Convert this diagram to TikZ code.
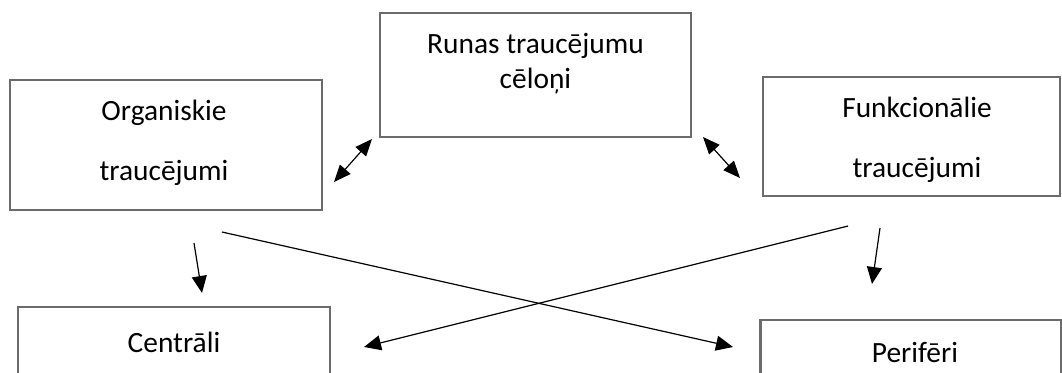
\documentclass[tikz,border=0pt]{standalone}
\usepackage{fontspec}
\setmainfont{Carlito}
\usetikzlibrary{arrows.meta}

\begin{document}
\begin{tikzpicture}[x=0.5pt,y=-0.5pt,
	box/.style={draw=black!58,line width=1.2pt,rectangle,inner sep=0pt},
	txt/.style={align=center,font=\fontsize{14.7}{17.5}\selectfont},
	widetxt/.style={align=center,font=\fontsize{14.7}{30}\selectfont},
	conn/.style={line width=0.6pt,-{Triangle[length=8.5pt,width=7.5pt]}},
	twoway/.style={line width=0.6pt,{Triangle[length=8.5pt,width=7pt]}-{Triangle[length=8.5pt,width=7pt]}}]
	\useasboundingbox (0,0) rectangle (1062,372);
	
	% boxes
	\node[box,minimum width=156pt,minimum height=65pt] (org) at (166,145) {};
	\node[box,minimum width=155.5pt,minimum height=62pt] (cause) at (535.5,75) {};
	\node[box,minimum width=148.5pt,minimum height=59.5pt] (func) at (911.5,136.5) {};
	\node[box,minimum width=156pt,minimum height=36pt] (cent) at (174,343) {};
	\node[box,minimum width=150.5pt,minimum height=40pt] (peri) at (911,360) {};
	
	% texts
	\node[widetxt] (orgtxt) at (164,143) {Organiskie\\traucējumi};
	\node[txt] (causetxt) at (535.5,64) {Runas traucējumu\\cēloņi};
	\node[widetxt] (functxt) at (917,140) {Funkcionālie\\traucējumi};
	\node[txt] (centtxt) at (174,342) {Centrāli};
	\node[txt] (peritxt) at (915,352) {Perifēri};
	
	% arrow ends
	\coordinate (ol1) at (372,139);
	\coordinate (ol2) at (334,182);
	\coordinate (fl1) at (703,137);
	\coordinate (fl2) at (740,178);
	\coordinate (od1) at (194,243);
	\coordinate (od2) at (202,293);
	\coordinate (fd1) at (880,228);
	\coordinate (fd2) at (872,284);
	\coordinate (x1) at (222,232);
	\coordinate (x2) at (733,347);
	\coordinate (y1) at (848,226);
	\coordinate (y2) at (364,347);
	
	\draw[twoway] (ol1) -- (ol2);
	\draw[twoway] (fl1) -- (fl2);
	\draw[conn] (od1) -- (od2);
	\draw[conn] (fd1) -- (fd2);
	\draw[conn] (x1) -- (x2);
	\draw[conn] (y1) -- (y2);
	
\end{tikzpicture}
\end{document}
